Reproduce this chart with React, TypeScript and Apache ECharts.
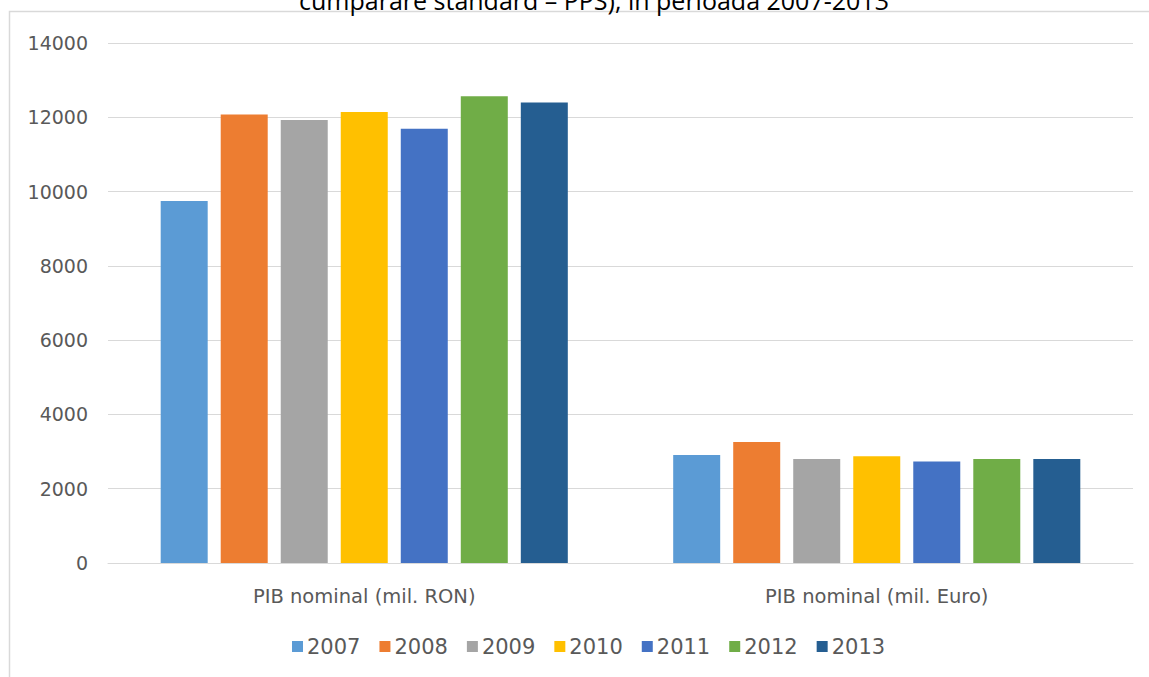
import React, { useEffect, useRef } from "react";
import * as echarts from "echarts";

const categories = ["PIB nominal (mil. RON)", "PIB nominal (mil. Euro)"];
const years = ["2007", "2008", "2009", "2010", "2011", "2012", "2013"];
const values2007 = [9745, 2907];
const values2008 = [12075, 3257];
const values2009 = [11930, 2800];
const values2010 = [12145, 2872];
const values2011 = [11690, 2730];
const values2012 = [12565, 2800];
const values2013 = [12395, 2800];
const seriesValues = [values2007, values2008, values2009, values2010, values2011, values2012, values2013];
const colors = ["#5B9BD5", "#ED7D31", "#A5A5A5", "#FFC000", "#4472C4", "#70AD47", "#255E91"];
const yTicks = { min: 0, max: 14000, interval: 2000 };
const titleText = "cumpărare standard – PPS), în perioada 2007-2013";

export default function App() {
  const ref = useRef<HTMLDivElement>(null);
  useEffect(() => {
    if (!ref.current) return;
    const chart = echarts.init(ref.current, null, { renderer: "svg" });
    chart.setOption({
      animation: false,
      backgroundColor: "#ffffff",
      graphic: [
        {
          type: "rect",
          shape: { x: 9.5, y: 11.5, width: 1150, height: 680 },
          style: { fill: "none", stroke: "#d9d9d9", lineWidth: 1.5 },
          silent: true,
        },
        {
          type: "text",
          x: 594,
          y: -13,
          style: {
            text: titleText,
            fill: "#000000",
            font: "25px 'Open Sans'",
            align: "center",
            verticalAlign: "top",
          },
          silent: true,
        },
      ],
      grid: { left: 108, right: 16, top: 43, bottom: 114, containLabel: false },
      legend: {
        left: 287,
        top: 631,
        itemWidth: 11,
        itemHeight: 11,
        itemGap: 19,
        icon: "rect",
        textStyle: { fontFamily: "DejaVu Sans", fontSize: 21, color: "#595959", padding: [0, 0, 0, -1] },
        data: years,
      },
      xAxis: {
        type: "category",
        data: categories,
        axisLine: { show: true, lineStyle: { color: "#d9d9d9" } },
        axisTick: { show: false },
        axisLabel: { fontFamily: "DejaVu Sans", fontSize: 19.5, color: "#595959", margin: 23 },
      },
      yAxis: {
        type: "value",
        min: yTicks.min,
        max: yTicks.max,
        interval: yTicks.interval,
        axisLine: { show: false },
        axisTick: { show: false },
        splitLine: { lineStyle: { color: "#d9d9d9" } },
        axisLabel: {
          fontFamily: "DejaVu Sans",
          fontSize: 19,
          color: "#595959",
          margin: 20,
          formatter: (v: number) => String(v),
        },
      },
      series: years.map((y, i) => ({
        name: y,
        type: "bar",
        data: seriesValues[i],
        barWidth: 47,
        barGap: "27.7%",
        itemStyle: { color: colors[i] },
      })),
    });
    return () => chart.dispose();
  }, []);
  return <div ref={ref} style={{ position: "absolute", left: 0, top: 0, width: 1149, height: 677 }} />;
}
